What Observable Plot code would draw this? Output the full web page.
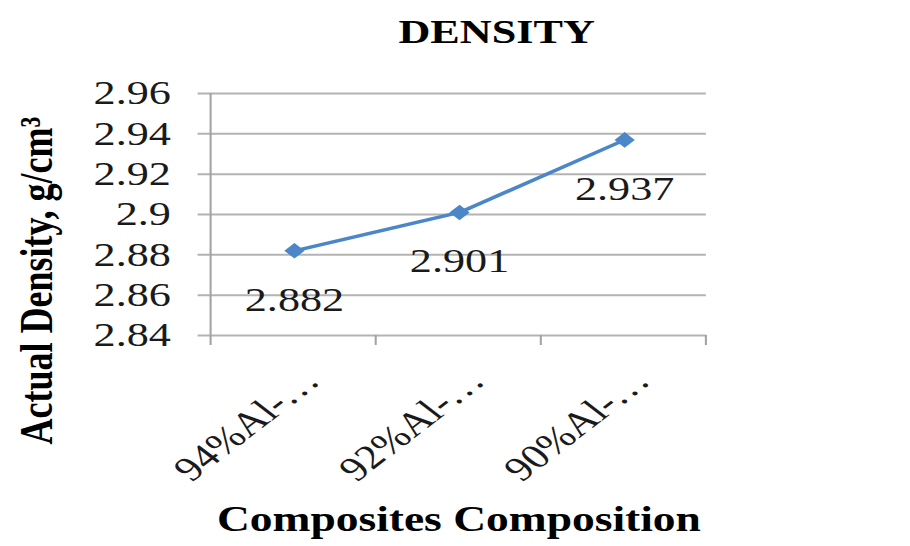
<!DOCTYPE html>
<html>
<head>
<meta charset="utf-8">
<script src="https://cdn.jsdelivr.net/npm/d3@7"></script>
<script src="https://cdn.jsdelivr.net/npm/@observablehq/plot@0.6"></script>
<style>
  html, body { margin: 0; padding: 0; background: #fff; overflow: hidden; }
  /* the chart is drawn 700 wide and widened to the 910 px window */
  #chart { width: 700px; transform: scaleX(1.3); transform-origin: 0 0; }
  #chart svg { display: block; }
</style>
</head>
<body>
<div id="chart"></div>
<script>
// Composition of each composite and its measured density (g/cm³)
const categories = ["94%Al-…", "92%Al-…", "90%Al-…"];
const density = [2.882, 2.901, 2.937];
const yTicks = [2.84, 2.86, 2.88, 2.9, 2.92, 2.94, 2.96];

const data = categories.map((c, i) => ({composition: c, density: density[i]}));

const serif = "'Liberation Serif', 'Times New Roman', serif";
const ink = "#1a1a1a";
const blue = "#4a86c8";
const gridColor = "#b3b3b3";
const fmt = d3.format(".2~f");

// Left axis line and the category boundary ticks under the plot area
const axisFrame = (index, scales, values, dims) => {
  const {y} = scales;
  const left = dims.marginLeft;
  const right = dims.width - dims.marginRight;
  const top = y(yTicks[yTicks.length - 1]);
  const bottom = y(yTicks[0]);
  const step = (right - left) / categories.length;
  const g = d3.create("svg:g")
    .attr("stroke", "#a3a3a3")
    .attr("stroke-width", 1.6)
    .attr("fill", "none");
  g.append("line")
    .attr("x1", left).attr("x2", left)
    .attr("y1", top).attr("y2", bottom + 10);
  for (let i = 1; i <= categories.length; ++i) {
    const e = left + i * step;
    g.append("line")
      .attr("x1", e).attr("x2", e)
      .attr("y1", bottom).attr("y2", bottom + 10);
  }
  return g.node();
};

const chart = Plot.plot({
  width: 700,
  height: 546,
  marginLeft: 162,
  marginRight: 157,
  marginTop: 93,
  marginBottom: 211,
  style: {fontFamily: serif, fontSize: "34px", color: ink, background: "white"},
  x: {type: "point", domain: categories, padding: 0.5, axis: null},
  y: {domain: [2.84, 2.96], axis: null},
  marks: [
    // horizontal gridlines, stretching left into tick marks
    Plot.ruleY(yTicks, {y: d => d, stroke: gridColor, strokeWidth: 2, insetLeft: -10}),
    axisFrame,
    // y tick labels
    Plot.text(yTicks, {
      y: d => d, text: d => fmt(d), frameAnchor: "left",
      textAnchor: "end", dx: -31, fill: ink
    }),
    // rotated category labels
    Plot.text(categories, {
      x: d => d, text: d => d, frameAnchor: "bottom",
      rotate: -45, textAnchor: "end", lineAnchor: "bottom",
      dx: 21, dy: 47, fill: ink
    }),
    // density series
    Plot.line(data, {x: "composition", y: "density", stroke: blue, strokeWidth: 3.4}),
    Plot.dot(data, {x: "composition", y: "density", symbol: "diamond2", r: 7, fill: blue, stroke: null}),
    Plot.text(data, {
      x: "composition", y: "density", text: d => String(d.density),
      lineAnchor: "bottom", dy: 60, fill: ink
    }),
    // titles
    Plot.text(["DENSITY"], {
      text: d => d, frameAnchor: "top", lineAnchor: "bottom",
      dx: 29, dy: -51, fontSize: 34, fontWeight: "bold", fill: "#000"
    }),
    Plot.text(["Composites Composition"], {
      text: d => d, frameAnchor: "bottom", lineAnchor: "bottom",
      dy: 195, fontSize: 35, fontWeight: "bold", fill: "#000"
    }),
    Plot.text(["Actual Density, g/cm³"], {
      text: d => d, frameAnchor: "left", rotate: -90, textAnchor: "middle",
      dx: -134, dy: 66, fontSize: 36, fontWeight: "bold", fill: "#000"
    })
  ]
});

document.getElementById("chart").appendChild(chart);
</script>
</body>
</html>
